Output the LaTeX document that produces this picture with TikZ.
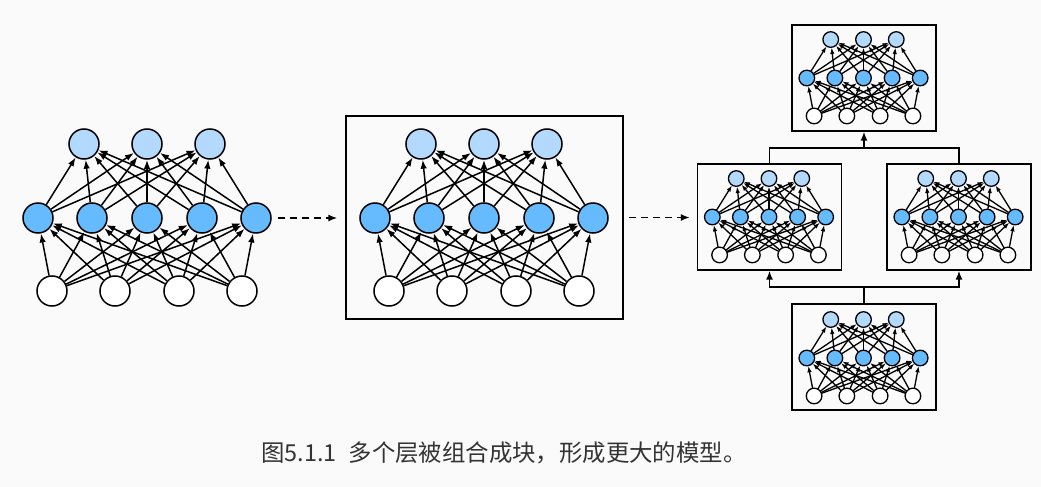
\documentclass[tikz,border=0pt]{standalone}
\usepackage{fontspec}
\newfontfamily\cjk{Noto Sans CJK SC}
\usepackage{xcolor}
\usepackage{tikz}
\usetikzlibrary{arrows.meta,positioning}
\definecolor{outblue}{HTML}{B3D9FF}
\definecolor{hidblue}{HTML}{66BBFF}
\definecolor{paper}{HTML}{FAFAFA}
\tikzset{
  unit/.style={circle,draw=black,line width=#1,minimum size=15pt,inner sep=0pt},
  unit/.default=0.75pt,
  outn/.style={unit=#1,fill=outblue},
  outn/.default=0.75pt,
  hidn/.style={unit=#1,fill=hidblue},
  hidn/.default=0.75pt,
  inn/.style={unit=#1,fill=white},
  inn/.default=0.75pt,
  wire/.style 2 args={line width=#1,-{Latex[length=4.5pt,width=3.2pt,scale=#2]}},
  netbox/.style={draw=black,line width=0.7pt,inner sep=0pt},
  link/.style={line width=0.75pt},
  flow/.style={line width=0.75pt,dash pattern=on 3.5pt off 2.5pt,
               -{Latex[length=4.5pt,width=3.5pt]}},
}

\begin{document}
\begin{tikzpicture}[x=0.5pt,y=-0.5pt]
  \fill[paper] (0,0) rectangle (1041,487);

  % boxes round the blocks
  \node[netbox,minimum width=138.5pt,minimum height=101.5pt] (box-b) at (484.5,217.5) {};
  \node[netbox,minimum width=72pt,minimum height=53pt] (box-t) at (864,78) {};
  \node[netbox,minimum width=72pt,minimum height=53pt] (box-l) at (769.5,217) {};
  \node[netbox,minimum width=72pt,minimum height=53pt] (box-r) at (959,217) {};
  \node[netbox,minimum width=72pt,minimum height=53pt] (box-u) at (864,357) {};

  % one fully connected layer stack per block
  \foreach \nm/\cx/\cy/\s/\as/\lw in {a/147/218/1/1/0.75pt, b/484/218/1/1/0.75pt,
      t/863.5/78/0.52/0.7/0.65pt, l/769/217/0.52/0.7/0.65pt,
      r/958.5/217/0.52/0.7/0.65pt, u/863.5/358/0.52/0.7/0.65pt} {
    \begin{scope}[shift={(\cx,\cy)},scale=\s,transform shape]
      \foreach \i/\x in {1/-63,2/0,3/63}
        \node[outn=\lw] (\nm-t\i) at (\x,-74) {};
      \foreach \i/\x in {1/-109,2/-55,3/0,4/55,5/109}
        \node[hidn=\lw] (\nm-m\i) at (\x,0) {};
      \foreach \i/\x in {1/-95,2/-32,3/32,4/95}
        \node[inn=\lw] (\nm-b\i) at (\x,73) {};
      \foreach \i in {1,...,5}
        \foreach \j in {1,2,3}
          \draw[wire={\lw}{\as}] (\nm-m\i) -- (\nm-t\j);
      \foreach \i in {1,...,4}
        \foreach \j in {1,...,5}
          \draw[wire={\lw}{\as}] (\nm-b\i) -- (\nm-m\j);
    \end{scope}
  }

  \draw[flow,shorten <=3pt,shorten >=4pt] (a-m5.east) -- (a-m5.east -| box-b.west);
  \draw[flow,shorten <=2.5pt,shorten >=3.5pt] (box-b.east) -- (box-b.east -| box-l.west);

  \coordinate (split) at (864,148);
  \coordinate (merge) at (864,287);
  \draw[link] (box-l.north) |- (split) -| (box-r.north);
  \draw[link,-{Latex[length=4.5pt,width=3.5pt]}] (split) -- (box-t.south);
  \draw[link] (box-u.north) -- (merge);
  \draw[link,-{Latex[length=4.5pt,width=3.5pt]}] (merge) -| (box-l.south);
  \draw[link,-{Latex[length=4.5pt,width=3.5pt]}] (merge) -| (box-r.south);

  \node[font=\cjk\fontsize{11.7pt}{14pt}\selectfont,text=black!80] (caption) at (504,453)
    {图5.1.1\hspace{0.5em}多个层被组合成块，形成更大的模型。};
\end{tikzpicture}
\end{document}
